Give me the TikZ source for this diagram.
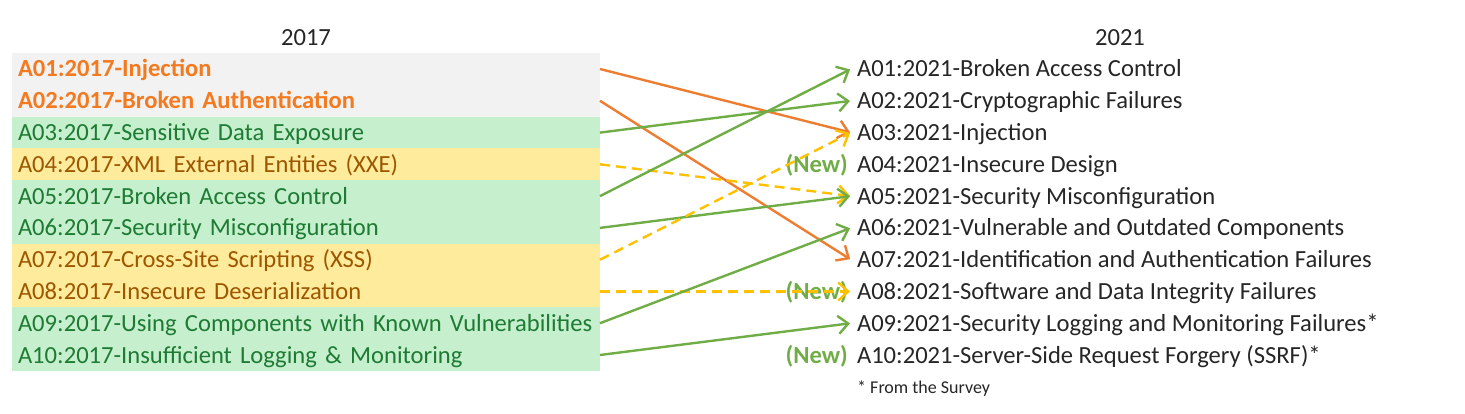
\documentclass[tikz,border=0pt]{standalone}
\usepackage{fontspec}
\setmainfont{Carlito}
\usetikzlibrary{arrows.meta}
\definecolor{gbg}{HTML}{F2F2F2}
\definecolor{grbg}{HTML}{C6EFCE}
\definecolor{ylbg}{HTML}{FFEB9C}
\definecolor{grtx}{HTML}{1E7B34}
\definecolor{yltx}{HTML}{9C5700}
\definecolor{ortx}{HTML}{F47A1F}
\definecolor{orln}{HTML}{ED7D31}
\definecolor{grln}{HTML}{70AD47}
\definecolor{ylln}{HTML}{FFC000}
\newcommand{\rowfont}{\fontsize{24.6}{29}\selectfont}
\tikzset{
  row/.style={anchor=west, minimum width=588pt, minimum height=31.8pt, inner xsep=6pt, inner ysep=0pt, outer sep=0pt, text width=576pt, align=left, text height=19pt, text depth=3pt, font=\rowfont},
  grayrow/.style={row, fill=gbg, text=ortx, font=\rowfont\bfseries},
  greenrow/.style={row, fill=grbg, text=grtx},
  yellowrow/.style={row, fill=ylbg, text=yltx},
  rrow/.style={anchor=west, inner xsep=0pt, inner ysep=0pt, outer sep=0pt, text height=19pt, text depth=3pt, font=\rowfont, text=black!85},
  newlbl/.style={anchor=east, inner xsep=0pt, inner ysep=0pt, text height=19pt, text depth=3pt, font=\rowfont\bfseries, text=grln},
  title/.style={font=\rowfont, text=black!85},
  conn/.style={line width=2.4pt, -{Straight Barb[length=10pt,width=18pt,line width=2.4pt]}, shorten >=1pt},
  orconn/.style={conn, draw=orln},
  grconn/.style={conn, draw=grln},
  ylconn/.style={conn, draw=ylln, dash pattern=on 10pt off 6pt},
}
\begin{document}
\begin{tikzpicture}[x=1pt,y=-1pt]
\useasboundingbox (0,0) rectangle (1465,414);
\node[title] (t17) at (306,38) {2017};
\node[title] (t21) at (1120,38) {2021};
\node[grayrow]   (l1)  at (12,69)     {A01:2017-Injection};
\node[grayrow]   (l2)  at (12,100.8)  {A02:2017-Broken Authentication};
\node[greenrow]  (l3)  at (12,132.6)  {A03:2017-Sensitive Data Exposure};
\node[yellowrow] (l4)  at (12,164.3)  {A04:2017-XML External Entities (XXE)};
\node[greenrow]  (l5)  at (12,196.1)  {A05:2017-Broken Access Control};
\node[greenrow]  (l6)  at (12,227.9)  {A06:2017-Security Misconfiguration};
\node[yellowrow] (l7)  at (12,259.7)  {A07:2017-Cross-Site Scripting (XSS)};
\node[yellowrow] (l8)  at (12,291.5)  {A08:2017-Insecure Deserialization};
\node[greenrow]  (l9)  at (12,323.2)  {A09:2017-Using Components with Known Vulnerabilities};
\node[greenrow]  (l10) at (12,355)    {A10:2017-Insufficient Logging \& Monitoring};
\node[rrow] (r1)  at (857,69)    {A01:2021-Broken Access Control};
\node[rrow] (r2)  at (857,100.8) {A02:2021-Cryptographic Failures};
\node[rrow] (r3)  at (857,132.6) {A03:2021-Injection};
\node[rrow] (r4)  at (857,164.3) {A04:2021-Insecure Design};
\node[rrow] (r5)  at (857,196.1) {A05:2021-Security Misconfiguration};
\node[rrow] (r6)  at (857,227.9) {A06:2021-Vulnerable and Outdated Components};
\node[rrow] (r7)  at (857,259.7) {A07:2021-Identification and Authentication Failures};
\node[rrow] (r8)  at (857,291.5) {A08:2021-Software and Data Integrity Failures};
\node[rrow] (r9)  at (857,323.2) {A09:2021-Security Logging and Monitoring Failures*};
\node[rrow] (r10) at (857,355)   {A10:2021-Server-Side Request Forgery (SSRF)*};
\node[newlbl] (n4)  at (848,164.3) {(New)};
\node[newlbl] (n8)  at (848,291.5) {(New)};
\node[newlbl] (n10) at (848,355)   {(New)};
\node[anchor=west, inner sep=0pt, font=\fontsize{18}{21}\selectfont, text=black!85] (fn) at (857,389) {* From the Survey};
\draw[orconn] (l1.east) -- ([xshift=-6pt]r3.west);
\draw[orconn] (l2.east) -- ([xshift=-6pt]r7.west);
\draw[grconn] (l3.east) -- ([xshift=-6pt]r2.west);
\draw[ylconn] (l4.east) -- ([xshift=-6pt]r5.west);
\draw[grconn] (l5.east) -- ([xshift=-6pt]r1.west);
\draw[grconn] (l6.east) -- ([xshift=-6pt]r5.west);
\draw[ylconn] (l7.east) -- ([xshift=-6pt]r3.west);
\draw[ylconn] (l8.east) -- ([xshift=-6pt]r8.west);
\draw[grconn] (l9.east) -- ([xshift=-6pt]r6.west);
\draw[grconn] (l10.east) -- ([xshift=-6pt]r9.west);
\end{tikzpicture}
\end{document}
